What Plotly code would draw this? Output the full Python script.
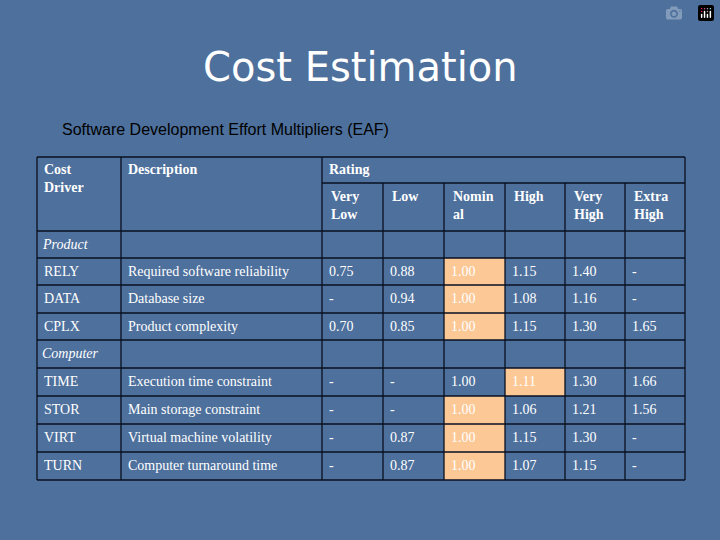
import plotly.graph_objects as go

# table content
rating_levels = ["Very<br>Low", "Low", "Nomin<br>al", "High", "Very<br>High", "Extra<br>High"]
rows = [
    ("Product", None, None),
    ("RELY", "Required software reliability", ["0.75", "0.88", "1.00", "1.15", "1.40", "-"]),
    ("DATA", "Database size", ["-", "0.94", "1.00", "1.08", "1.16", "-"]),
    ("CPLX", "Product complexity", ["0.70", "0.85", "1.00", "1.15", "1.30", "1.65"]),
    ("Computer", None, None),
    ("TIME", "Execution time constraint", ["-", "-", "1.00", "1.11", "1.30", "1.66"]),
    ("STOR", "Main storage constraint", ["-", "-", "1.00", "1.06", "1.21", "1.56"]),
    ("VIRT", "Virtual machine volatility", ["-", "0.87", "1.00", "1.15", "1.30", "-"]),
    ("TURN", "Computer turnaround time", ["-", "0.87", "1.00", "1.07", "1.15", "-"]),
]
# (row index, rating index) of highlighted cells
highlight = [(1, 2), (2, 2), (3, 2), (5, 3), (6, 2), (7, 2), (8, 2)]

# layout grid in pixels
col_x = [37, 121, 322, 383, 444, 505, 565, 625, 685]
head_y = [157, 183, 231]
row_y = [231, 258, 285, 313, 340, 368, 396, 424, 452, 480]

BG = "#4e709c"
LINE = "#0a1020"
HL = "#fcc896"
SERIF = "Liberation Serif, Times New Roman, serif"

fig = go.Figure()
shapes = []
ann = []


def txt(x, y, s, size=14, italic=False, bold=False):
    if italic:
        s = f"<i>{s}</i>"
    if bold:
        s = f"<b>{s}</b>"
    ann.append(dict(x=x, y=y, text=s, showarrow=False, xanchor="left", yanchor="top",
                    align="left", font=dict(family=SERIF, size=size, color="white")))


def line(x0, y0, x1, y1):
    shapes.append(dict(type="line", x0=x0, y0=y0, x1=x1, y1=y1, line=dict(color=LINE, width=1.3)))


# highlights
for r, c in highlight:
    shapes.append(dict(type="rect", x0=col_x[c + 2], x1=col_x[c + 3], y0=row_y[r], y1=row_y[r + 1],
                       fillcolor=HL, line=dict(width=0), layer="below"))

# horizontal lines
line(col_x[0], head_y[0], col_x[-1], head_y[0])
line(col_x[2], head_y[1], col_x[-1], head_y[1])
for y in row_y:
    line(col_x[0], y, col_x[-1], y)
# vertical lines
for i, x in enumerate(col_x):
    y0 = head_y[0] if i in (0, 1, 2, len(col_x) - 1) else head_y[1]
    line(x, y0, x, row_y[-1])

# header text
txt(col_x[0] + 5, head_y[0] + 3, "Cost<br>Driver", bold=True)
txt(col_x[1] + 5, head_y[0] + 3, "Description", bold=True)
txt(col_x[2] + 5, head_y[0] + 3, "Rating", bold=True)
for i, lvl in enumerate(rating_levels):
    txt(col_x[i + 2] + 7, head_y[1] + 4, lvl, bold=True)

# body
for r, (drv, desc, vals) in enumerate(rows):
    y = row_y[r] + 4
    if vals is None:
        txt(col_x[0] + 3, y, drv, italic=True)
        continue
    txt(col_x[0] + 5, y, drv)
    txt(col_x[1] + 5, y, desc)
    for c, v in enumerate(vals):
        txt(col_x[c + 2] + 5, y, v)

# title and subtitle
ann.append(dict(x=360, y=42, text="Cost Estimation", showarrow=False, xanchor="center", yanchor="top",
                font=dict(family="DejaVu Sans, Tahoma, sans-serif", size=40, color="white")))
ann.append(dict(x=60, y=119, text="Software Development Effort Multipliers (EAF)", showarrow=False,
                xanchor="left", yanchor="top",
                font=dict(family="Liberation Sans, Arial, sans-serif", size=16, color="black")))

fig.update_layout(
    width=720, height=540, margin=dict(l=0, r=0, t=0, b=0),
    paper_bgcolor=BG, plot_bgcolor=BG, showlegend=False,
    shapes=shapes, annotations=ann,
    xaxis=dict(range=[0, 720], visible=False, fixedrange=True),
    yaxis=dict(range=[540, 0], visible=False, fixedrange=True),
)
fig.write_html("out.html", post_script="document.body.style.margin='0';")
